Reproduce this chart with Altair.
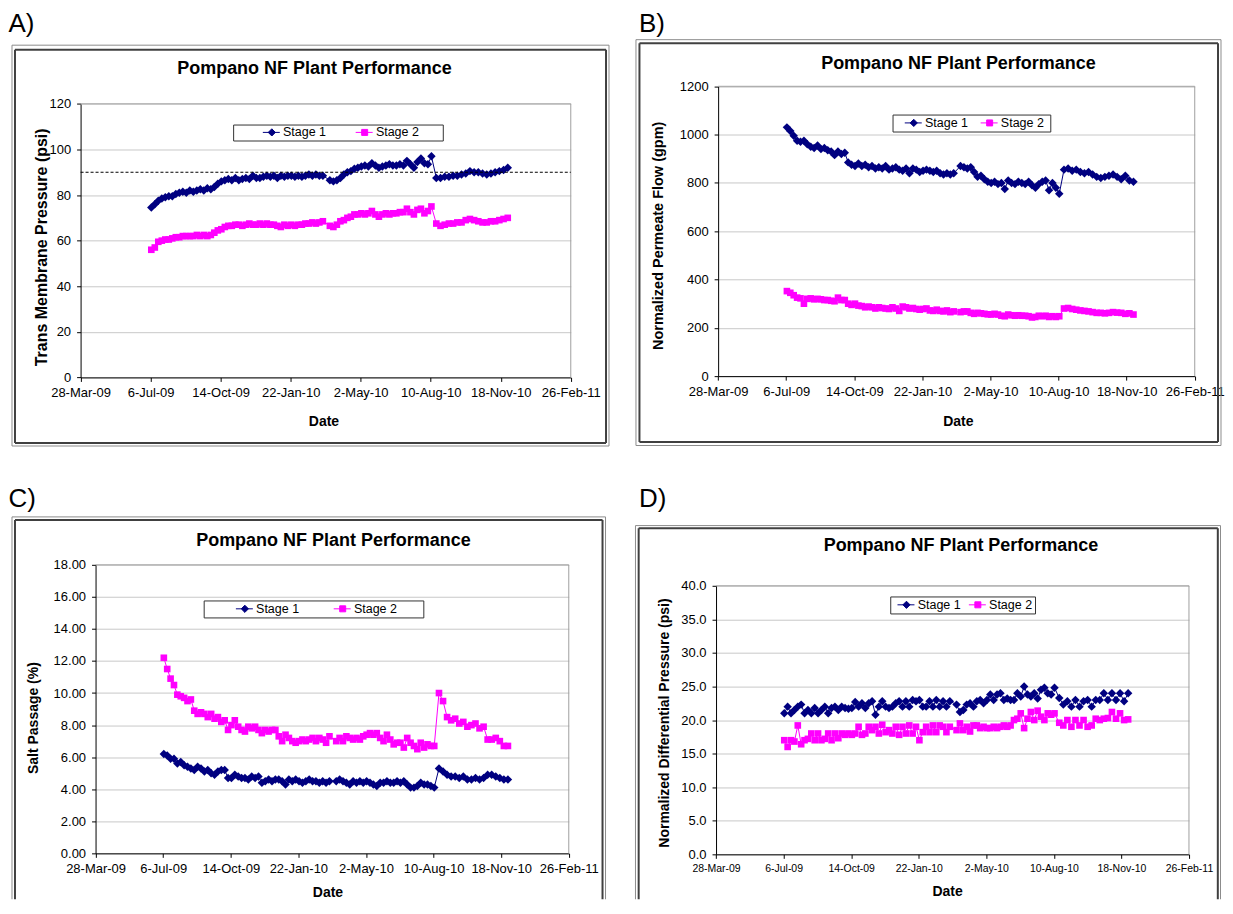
import altair as alt
import pandas as pd

# ---------------- data ----------------
START = "2009-03-28"
DAYS = [101, 106, 111, 116, 121, 126, 131, 136, 141, 146,
        151, 156, 161, 166, 171, 176, 181, 186, 191, 196,
        201, 206, 211, 216, 221, 226, 231, 236, 241, 246,
        251, 256, 261, 266, 271, 276, 281, 286, 291, 296,
        301, 306, 311, 316, 321, 326, 331, 336, 341, 346,
        356, 361, 366, 371, 376, 381, 386, 391, 396, 401,
        406, 411, 416, 421, 426, 431, 436, 441, 446, 451,
        456, 461, 466, 471, 476, 481, 486, 491, 496, 501,
        508, 514, 520, 526, 532, 538, 544, 550, 556, 562,
        568, 574, 580, 586, 592, 598, 604, 610]

SERIES = ["Stage 1", "Stage 2"]
COLORS = ["#000080", "#FF00FF"]
TICK_DATES = ["2009-03-28", "2009-07-06", "2009-10-14", "2010-01-22",
              "2010-05-02", "2010-08-10", "2010-11-18", "2011-02-26"]
TITLE = "Pompano NF Plant Performance"
A_LIMIT = 90

A_TICKS = [0, 20, 40, 60, 80, 100, 120]
B_TICKS = [0, 200, 400, 600, 800, 1000, 1200]
C_TICKS = [0, 2, 4, 6, 8, 10, 12, 14, 16, 18]
D_TICKS = [0, 5, 10, 15, 20, 25, 30, 35, 40]

A_S1 = [74.5, 76, 77.5, 78.5, 79, 79.5, 79.5, 80.5, 81, 81.5,
        81, 82, 81.5, 82, 82.5, 82, 83, 82.5, 83.5, 85,
        86, 86.5, 87, 86.5, 87.5, 86.5, 87, 87.5, 87, 88.5,
        87.5, 87.5, 88, 88.5, 88, 88.5, 87.5, 88.5, 88, 88.5,
        88.5, 88, 88.5, 88, 88.5, 89, 88.5, 89, 88.5, 88.5,
        86.5, 86, 86.5, 87.5, 89, 90, 90.5, 91.5, 92, 92.5,
        93, 92.5, 94, 93, 92, 92.5, 93, 93.5, 93, 93,
        93.5, 93, 95, 93.5, 92, 94.5, 96, 94, 93.5, 97,
        87.5, 87.5, 88, 88, 88.5, 88.5, 89, 89.5, 90.5, 90,
        90, 89.5, 89, 89.5, 90, 90.5, 91, 92]
A_S2 = [56, 57, 59.5, 60, 60.5, 60.5, 61, 61.5, 61.5, 62,
        62, 62, 62, 62.5, 62, 62.5, 62, 62.5, 63.5, 64.5,
        65, 66, 66.5, 66.5, 67, 67, 66.5, 67, 67.5, 67,
        67, 67.5, 67, 67.5, 67, 67, 66.5, 66, 67, 66.5,
        67, 66.5, 67, 67, 67.5, 67.5, 68, 67.5, 68, 68.5,
        66.5, 66, 67, 68.5, 69, 70, 70.5, 71.5, 71.5, 72,
        71.5, 72, 73, 71.5, 70.5, 71.5, 72, 71.5, 72, 72,
        72.5, 72.5, 74, 72.5, 71.5, 73.5, 74, 72, 73, 75,
        67.5, 66.5, 67, 67.5, 67.5, 68, 68, 69, 69.5, 69,
        68.5, 68, 68, 68.5, 68.5, 69, 69.5, 70]

B_S1 = [1030, 1015, 995, 975, 970, 975, 960, 950, 945, 955,
        940, 945, 935, 930, 915, 930, 920, 925, 885, 875,
        870, 880, 870, 875, 865, 870, 860, 865, 860, 870,
        855, 860, 865, 855, 850, 860, 840, 860, 855, 845,
        850, 855, 850, 845, 850, 840, 835, 840, 835, 840,
        870, 865, 860, 865, 845, 825, 830, 815, 805, 800,
        805, 795, 800, 775, 810, 800, 795, 805, 800, 795,
        805, 790, 780, 795, 805, 810, 770, 800, 780, 755,
        855, 860, 850, 855, 845, 840, 845, 835, 825, 820,
        825, 830, 835, 825, 815, 830, 810, 805]
B_S2 = [352, 345, 335, 325, 322, 300, 320, 322, 318, 320,
        318, 315, 315, 312, 310, 325, 315, 315, 300, 295,
        300, 292, 290, 285, 288, 285, 280, 285, 282, 280,
        278, 285, 280, 270, 288, 285, 280, 282, 278, 275,
        278, 280, 272, 270, 275, 270, 268, 272, 265, 268,
        265, 268, 268, 262, 258, 262, 260, 258, 256, 255,
        258, 255, 250, 248, 255, 252, 250, 252, 250, 250,
        248, 243, 245, 250, 248, 250, 245, 248, 245, 248,
        280, 282, 278, 275, 272, 270, 268, 265, 262, 262,
        260, 262, 265, 263, 262, 258, 260, 255]

C_S1 = [6.2, 6.1, 5.9, 5.9, 5.6, 5.7, 5.5, 5.4, 5.3, 5.2,
        5.4, 5.3, 5.1, 5.2, 5.0, 4.9, 5.1, 5.2, 5.2, 4.7,
        4.7, 4.9, 4.8, 4.7, 4.7, 4.6, 4.8, 4.7, 4.8, 4.4,
        4.5, 4.6, 4.5, 4.6, 4.6, 4.5, 4.3, 4.6, 4.5, 4.6,
        4.5, 4.4, 4.5, 4.6, 4.5, 4.5, 4.4, 4.5, 4.4, 4.5,
        4.5, 4.6, 4.5, 4.4, 4.3, 4.5, 4.4, 4.5, 4.4, 4.5,
        4.4, 4.3, 4.2, 4.4, 4.4, 4.5, 4.4, 4.4, 4.5, 4.4,
        4.5, 4.3, 4.1, 4.1, 4.2, 4.4, 4.3, 4.3, 4.2, 4.1,
        5.3, 5.1, 4.9, 4.8, 4.8, 4.7, 4.8, 4.6, 4.6, 4.7,
        4.6, 4.7, 4.9, 4.9, 4.8, 4.7, 4.6, 4.6]
C_S2 = [12.2, 11.5, 10.9, 10.5, 9.9, 9.8, 9.7, 9.5, 9.6, 8.9,
        8.7, 8.8, 8.7, 8.5, 8.7, 8.4, 8.5, 8.2, 8.3, 7.7,
        8.0, 8.3, 7.9, 7.7, 7.6, 7.9, 7.8, 7.9, 7.7, 7.5,
        7.7, 7.6, 7.7, 7.7, 7.3, 7.0, 7.4, 7.2, 7.0, 6.9,
        7.0, 7.1, 7.0, 7.1, 7.2, 7.0, 7.2, 7.1, 6.9, 7.3,
        7.0, 7.2, 7.0, 7.3, 7.2, 7.1, 7.2, 7.1, 7.3, 7.4,
        7.5, 7.4, 7.5, 7.2, 7.0, 7.4, 7.1, 6.8, 6.9, 6.9,
        6.6, 7.2, 6.9, 6.7, 6.5, 6.9, 6.6, 6.8, 6.7, 6.7,
        10.0, 9.5, 8.5, 8.3, 8.4, 8.1, 8.2, 7.9, 8.0, 8.1,
        7.8, 7.9, 7.1, 7.1, 7.2, 7.0, 6.7, 6.7]

D_S1 = [21.0, 22.0, 21.0, 21.5, 22.0, 22.3, 21.0, 21.5, 21.0, 21.8,
        21.0, 21.5, 22.0, 21.0, 21.8, 22.0, 21.5, 22.0, 21.8, 21.7,
        21.8, 22.7, 22.0, 22.5, 21.8, 22.5, 22.8, 20.8, 22.0, 22.8,
        22.0, 21.8, 22.0, 22.5, 22.8, 22.0, 22.8, 22.0, 23.0, 22.8,
        23.0, 22.0, 22.0, 22.8, 22.0, 23.0, 22.0, 22.8, 22.0, 22.8,
        22.3, 21.2, 21.5, 22.3, 22.5, 22.0, 22.8, 23.0, 22.5, 23.0,
        23.8, 23.0, 23.8, 24.0, 23.0, 23.2, 23.0, 23.0, 24.0, 23.5,
        25.0, 23.8, 23.5, 24.0, 23.2, 24.5, 24.8, 24.0, 23.8, 24.8,
        23.3, 22.3, 22.8, 22.0, 23.0, 22.0, 22.8, 23.0, 22.0, 23.0,
        23.0, 24.0, 23.0, 24.0, 23.0, 24.0, 22.8, 24.0]
D_S2 = [17.0, 16.0, 17.0, 16.8, 19.2, 16.4, 17.0, 17.2, 18.0, 17.0,
        18.0, 17.0, 17.2, 18.0, 17.0, 18.0, 17.3, 18.0, 17.8, 18.0,
        17.8, 18.0, 19.0, 17.8, 18.0, 19.0, 18.5, 19.0, 18.0, 19.3,
        18.2, 18.5, 18.0, 19.0, 17.8, 19.0, 18.0, 19.2, 18.0, 19.0,
        17.0, 18.2, 19.0, 18.2, 19.2, 18.2, 19.2, 19.0, 18.2, 19.0,
        18.5, 19.5, 18.5, 19.0, 18.3, 19.2, 19.2, 18.8, 19.0, 18.8,
        18.8, 19.0, 18.8, 19.0, 19.2, 19.0, 19.2, 20.0, 20.2, 21.0,
        18.8, 20.2, 21.2, 20.0, 21.4, 20.5, 20.0, 21.0, 20.8, 21.0,
        19.6, 19.2, 20.0, 19.0, 20.0, 19.2, 20.0, 19.0, 19.2, 20.2,
        20.0, 20.2, 20.3, 21.2, 20.2, 21.0, 20.0, 20.1]

# ---------------- helpers ----------------
FONT = "Liberation Sans"
ONE = pd.DataFrame({"k": [0]})
DATES = (pd.Timestamp(START) + pd.to_timedelta(DAYS, unit="D")).strftime("%Y-%m-%d").tolist()


def dt(s):
    y, m, d = (int(v) for v in s.split("-"))
    return alt.DateTime(year=y, month=m, date=d, utc=True)


def make_df(s1, s2):
    return pd.DataFrame({
        "date": DATES + DATES,
        "Stage": [SERIES[0]] * len(DATES) + [SERIES[1]] * len(DATES),
        "value": list(s1) + list(s2),
    })


def hrule(x1, x2, y, color, sw):
    return alt.Chart(ONE).mark_rule(color=color, strokeWidth=sw).encode(
        x=alt.value(x1), x2=alt.value(x2), y=alt.value(y))


def vrule(x, y1, y2, color, sw):
    return alt.Chart(ONE).mark_rule(color=color, strokeWidth=sw).encode(
        x=alt.value(x), y=alt.value(y1), y2=alt.value(y2))


def frame(cx, cy, box, bottom_y, color, sw, draw_bottom):
    x1, y1, x2, y2 = box[0] - cx, box[1] - cy, box[2] - cx, bottom_y - cy
    parts = [hrule(x1, x2, y1, color, sw), vrule(x1, y1, y2, color, sw), vrule(x2, y1, y2, color, sw)]
    if draw_bottom:
        parts.append(hrule(x1, x2, y2, color, sw))
    return parts


def fmt(v):
    return f"{v:.3f}"


SYM_AREA = 121          # legend symbol area -> 11 px box, 5.5 px per path unit
SYM_BOX = 12            # sqrt(area) + stroke width
LEG_FS = 12.5


def legend_paths(ml, p):
    u = 5.5
    ls = ml - p - SYM_BOX / 2.0     # line start, px from symbol centre
    mx, le = ls + 9.0, ls + 17.0
    rd, rs = 3.6, 3.0
    lead = f"M{fmt(ls / u)},0L{fmt(le / u)},0"
    m, d, s = mx / u, rd / u, rs / u
    p1 = lead + f"M{fmt(m)},{fmt(-d)}L{fmt(m + d)},0L{fmt(m)},{fmt(d)}L{fmt(m - d)},0Z"
    p2 = lead + f"M{fmt(m - s)},{fmt(-s)}L{fmt(m + s)},{fmt(-s)}L{fmt(m + s)},{fmt(s)}L{fmt(m - s)},{fmt(s)}Z"
    return [p1, p2]


def panel(cfg):
    ox, oy = cfg["origin"]          # plot-area top-left, page px
    w, h = cfg["size"]
    cx1, cy1, cx2, cy2 = cfg["cell"]
    W, H = cx2 - cx1, cy2 - cy1
    L, T = ox - cx1, oy - cy1
    df = make_df(cfg["s1"], cfg["s2"])
    ticks = cfg["yticks"]

    xaxis = alt.Axis(values=[dt(s) for s in TICK_DATES], format="%-d-%b-%y", grid=False,
                     labelFont=FONT, labelFontSize=cfg["xfs"], labelColor="black",
                     labelFlush=False, labelOverlap=False, labelPadding=5,
                     tickSize=4, tickColor="black", domainColor="black",
                     offset=-(H - (T + h)),
                     title="Date", titleFont=FONT, titleFontSize=14, titleFontWeight="bold",
                     titleColor="black", titleX=cfg["xt"][0] - cx1, titleY=cfg["xt"][1] - oy - h,
                     titleBaseline="middle", titleAlign="center", titleAngle=0)
    yaxis = alt.Axis(values=ticks, format=cfg["yfmt"], grid=True, gridColor="#c8c8c8",
                     labelFont=FONT, labelFontSize=cfg["yfs"], labelColor="black",
                     labelFlush=False, labelOverlap=False, labelPadding=6,
                     tickSize=4, tickColor="black", domainColor="black",
                     offset=-L,
                     title=cfg["ytitle"], titleFont=FONT, titleFontSize=cfg["ytfs"],
                     titleFontWeight="bold", titleColor="black",
                     titleX=cfg["yt"][0] - ox, titleY=cfg["yt"][1] - cy1,
                     titleAngle=270, titleBaseline="middle", titleAlign="center")

    x = alt.X("date:T", scale=alt.Scale(type="utc", domain=[dt(TICK_DATES[0]), dt(TICK_DATES[-1])],
                                        nice=False, range=[L, L + w]), axis=xaxis)
    y = alt.Y("value:Q", scale=alt.Scale(domain=[ticks[0], ticks[-1]], nice=False, range=[T + h, T]),
              axis=yaxis)

    base = alt.Chart(df).encode(x=x, y=y)
    color = alt.Color("Stage:N", scale=alt.Scale(domain=SERIES, range=COLORS), legend=None)
    line = base.mark_line(strokeWidth=1).encode(color=color)
    pts = base.mark_point(filled=True, opacity=1).encode(
        color=color,
        shape=alt.Shape("Stage:N", scale=alt.Scale(domain=SERIES, range=["diamond", "square"]), legend=None),
        size=alt.Size("Stage:N", scale=alt.Scale(domain=SERIES, range=[72, 44]), legend=None),
    )

    # plot-area border (top / right) and optional limit line, through the scales
    x0, x1 = alt.datum(dt(TICK_DATES[0])), alt.datum(dt(TICK_DATES[-1]))
    border_top = alt.Chart(ONE).mark_rule(color="#a0a0a0", strokeWidth=1).encode(
        x=x0, x2=x1, y=alt.datum(ticks[-1]))
    border_right = alt.Chart(ONE).mark_rule(color="#a0a0a0", strokeWidth=1).encode(
        x=x1, y=alt.datum(ticks[0]), y2=alt.datum(ticks[-1]))

    # legend (library legend, Excel-like line+marker symbols)
    lb = cfg["legend"]
    p = lb["p"]
    leg_kw = dict(orient="none", legendX=lb["x"] - cx1, legendY=lb["y"] - cy1,
                  direction="horizontal", padding=p, strokeColor="#333333", fillColor="white",
                  symbolSize=SYM_AREA, symbolStrokeWidth=1, labelFont=FONT, labelFontSize=LEG_FS,
                  labelColor="black", labelOffset=lb["ml"] + 20 - p - SYM_BOX,
                  columnPadding=lb["gap"] - (lb["ml"] - p))
    spare = lb["mr"] - p - 3
    if spare >= 3:
        # invisible (white) spacer title on the right gives the legend box its right margin
        leg_kw.update(title="mmmm", titleOrient="right", titlePadding=0, titleColor="white",
                      titleFont=FONT, titleFontWeight="normal", titleFontSize=round(spare / (4 * 0.833), 2))
    else:
        leg_kw.update(title=None)
    leg = alt.Legend(**leg_kw)
    legend_layer = alt.Chart(df).transform_filter("false").mark_point(filled=True, opacity=1, strokeWidth=1).encode(
        fill=alt.Fill("Stage:N", scale=alt.Scale(domain=SERIES, range=COLORS), legend=leg),
        stroke=alt.Stroke("Stage:N", scale=alt.Scale(domain=SERIES, range=COLORS), legend=leg),
        shape=alt.Shape("Stage:N", scale=alt.Scale(domain=SERIES, range=legend_paths(lb["ml"], p)), legend=leg),
    )

    label = alt.Chart(ONE).mark_text(text=cfg["tag"][0], font=FONT, fontSize=26, align="left",
                                     baseline="alphabetic", color="black").encode(
        x=alt.value(cfg["tag"][1] - cx1), y=alt.value(cfg["tag"][2] - cy1))
    title = alt.Chart(ONE).mark_text(text=TITLE, font=FONT, fontSize=18, fontWeight="bold", align="center",
                                     baseline="alphabetic", color="black").encode(
        x=alt.value(cfg["title"][0] - cx1), y=alt.value(cfg["title"][1] - cy1))

    bottom = cfg["bottom"]
    layers = [line, pts, border_top, border_right]
    layers += frame(cx1, cy1, cfg["outer"], bottom[0], "#8c8c8c", 1, bottom[2])
    layers += frame(cx1, cy1, cfg["inner"], bottom[1], "#404040", 2, bottom[2])
    layers += [label, title]
    if cfg.get("limit") is not None:
        layers.append(alt.Chart(ONE).mark_rule(color="black", strokeWidth=1, strokeDash=[3, 2]).encode(
            x=x0, x2=x1, y=alt.datum(cfg["limit"])))
    layers += [legend_layer]

    return alt.layer(*layers).properties(width=W, height=H).resolve_scale(
        shape="independent", color="independent", fill="independent",
        stroke="independent", size="independent")


A = dict(origin=(80.7, 103.3), size=(491, 274), s1=A_S1, s2=A_S2, yticks=A_TICKS, yfmt="d",
         ytitle="Trans Membrane Pressure (psi)", ytfs=16, yt=(41.3, 246.5), xt=(324, 421.7),
         xfs=13, yfs=13, title=(315, 73.5), tag=("A)", 8.5, 31),
         outer=(12, 44.5, 610), inner=(15, 49, 607), bottom=(446, 443, True),
         cell=(8, 8, 624, 470), limit=A_LIMIT,
         legend=dict(x=233.5, y=124, p=1.5, ml=29.5, gap=29, mr=26.5))
B = dict(origin=(719.3, 85.7), size=(477.4, 290.3), s1=B_S1, s2=B_S2, yticks=B_TICKS, yfmt="d",
         ytitle="Normalized Permeate Flow (gpm)", ytfs=14.5, yt=(660, 235), xt=(959.4, 421.7),
         xfs=13, yfs=13, title=(960, 68), tag=("B)", 640, 31),
         outer=(637, 39, 1223), inner=(640.5, 42.5, 1220), bottom=(445.5, 442, True),
         cell=(624, 8, 1224, 470),
         legend=dict(x=894, y=114, p=2, ml=12, gap=12, mr=9))
C = dict(origin=(95.7, 565), size=(474, 289), s1=C_S1, s2=C_S2, yticks=C_TICKS, yfmt=".2f",
         ytitle="Salt Passage (%)", ytfs=14, yt=(33.5, 718), xt=(328, 893),
         xfs=13, yfs=13, title=(334, 546.5), tag=("C)", 8.5, 507),
         outer=(12, 517, 606.5), inner=(15, 520, 603.5), bottom=(900, 900, False),
         cell=(8, 470, 624, 900),
         legend=dict(x=204, y=600.7, p=2, ml=32, gap=34, mr=29))
D = dict(origin=(717.2, 586), size=(473.7, 269), s1=D_S1, s2=D_S2, yticks=D_TICKS, yfmt=".1f",
         ytitle="Normalized Differential Pressure (psi)", ytfs=14, yt=(665.3, 723), xt=(948.7, 892),
         xfs=10.5, yfs=13, title=(962.5, 551.5), tag=("D)", 640, 507),
         outer=(636.5, 525.7, 1222.5), inner=(639.7, 528.3, 1219.8), bottom=(900, 900, False),
         cell=(624, 470, 1224, 900),
         legend=dict(x=891.7, y=596.7, p=2, ml=7, gap=7.5, mr=3))

chart = alt.vconcat(
    alt.hconcat(panel(A), panel(B), spacing=0),
    alt.hconcat(panel(C), panel(D), spacing=0),
    spacing=0,
).properties(padding=0).configure_view(strokeWidth=0)

chart.save("out.html", embed_options={"renderer": "svg", "actions": False})
